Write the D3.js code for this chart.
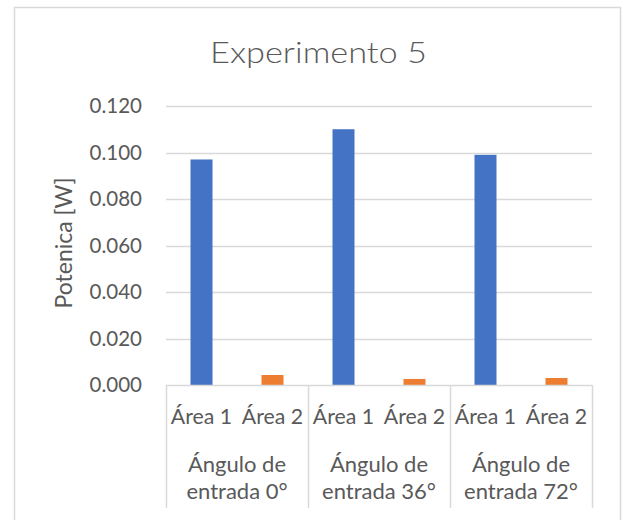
<!DOCTYPE html>
<html>
<head>
<meta charset="utf-8">
<script src="https://cdn.jsdelivr.net/npm/d3@7/dist/d3.min.js"></script>
<style>
  html, body { margin: 0; padding: 0; background: #fff; }
  svg { display: block; }
  text { font-family: Lato, "Open Sans", sans-serif; fill: #595959; }
</style>
</head>
<body>
<svg id="chart" width="622" height="520"></svg>
<script>
// ---- data ----
const title = "Experimento 5";
const yTitle = "Potenica [W]";
const groups = ["Ángulo de entrada 0°", "Ángulo de entrada 36°", "Ángulo de entrada 72°"];
const groupLines = [["Ángulo de", "entrada 0°"], ["Ángulo de", "entrada 36°"], ["Ángulo de", "entrada 72°"]];
const leaves = ["Área 1", "Área 2"];
const area1 = [0.097, 0.110, 0.099];
const area2 = [0.0043, 0.0026, 0.0030];
const yTicks = [0, 0.02, 0.04, 0.06, 0.08, 0.10, 0.12];
const colors = {"Área 1": "#4472C4", "Área 2": "#ED7D31"};

// ---- layout ----
const svg = d3.select("#chart");
const plot = {left: 166, right: 592, top: 106, bottom: 385};
const grid = "#d9d9d9";

svg.append("rect").attr("x", 14.5).attr("y", 7.5).attr("width", 606).attr("height", 530)
  .attr("fill", "#fff").attr("stroke", grid).attr("stroke-width", 1.5);

const rows = [];
groups.forEach((g, gi) => {
  rows.push({group: g, gi, leaf: leaves[0], value: area1[gi]});
  rows.push({group: g, gi, leaf: leaves[1], value: area2[gi]});
});
const keys = rows.map(r => r.group + "|" + r.leaf);

const x = d3.scaleBand().domain(keys).range([plot.left, plot.right]).padding(0);
const xg = d3.scaleBand().domain(groups).range([plot.left, plot.right]).padding(0);
const y = d3.scaleLinear().domain([0, 0.12]).range([plot.bottom, plot.top]);

// gridlines
svg.append("g").selectAll("line").data(yTicks.filter(t => t > 0)).join("line")
  .attr("x1", plot.left).attr("x2", plot.right)
  .attr("y1", d => Math.round(y(d)) + 0.5).attr("y2", d => Math.round(y(d)) + 0.5)
  .attr("stroke", grid).attr("stroke-width", 1.3);

// y tick labels
svg.append("g").selectAll("text").data(yTicks).join("text")
  .attr("x", 142).attr("y", d => y(d)).attr("dy", "0.36em")
  .attr("text-anchor", "end").attr("font-size", 20.5)
  .text(d => d3.format(".3f")(d));

// bars
const barW = x.bandwidth() * 22 / 71;
svg.append("g").selectAll("rect").data(rows).join("rect")
  .attr("x", d => x(d.group + "|" + d.leaf) + (x.bandwidth() - barW) / 2)
  .attr("width", barW)
  .attr("y", d => y(d.value))
  .attr("height", d => y(0) - y(d.value))
  .attr("fill", d => colors[d.leaf]);

// x axis line
svg.append("line").attr("x1", plot.left).attr("x2", plot.right)
  .attr("y1", plot.bottom + 0.5).attr("y2", plot.bottom + 0.5)
  .attr("stroke", grid).attr("stroke-width", 1.5);

// group separators
const seps = groups.map(g => xg(g)).concat([plot.right]);
svg.append("g").selectAll("line").data(seps).join("line")
  .attr("x1", d => d + 0.5).attr("x2", d => d + 0.5)
  .attr("y1", plot.bottom).attr("y2", 508)
  .attr("stroke", grid).attr("stroke-width", 1.5);

// leaf labels
svg.append("g").selectAll("text").data(rows).join("text")
  .attr("x", d => x(d.group + "|" + d.leaf) + x.bandwidth() / 2)
  .attr("y", 424).attr("text-anchor", "middle").attr("font-size", 21.3)
  .text(d => d.leaf);

// group labels
groups.forEach((g, gi) => {
  const t = svg.append("text").attr("text-anchor", "middle").attr("font-size", 22);
  groupLines[gi].forEach((line, li) => {
    t.append("tspan").attr("x", xg(g) + xg.bandwidth() / 2).attr("y", 471.5 + li * 27.5).text(line);
  });
});

// y title
svg.append("text").attr("transform", "translate(72,243) rotate(-90)")
  .attr("text-anchor", "middle").attr("font-size", 23).text(yTitle);

// title
svg.append("text").attr("x", 318.5).attr("y", 63.3).attr("text-anchor", "middle")
  .attr("font-size", 29).attr("font-weight", 300)
  .attr("textLength", 217).attr("lengthAdjust", "spacingAndGlyphs")
  .text(title);
</script>
</body>
</html>
